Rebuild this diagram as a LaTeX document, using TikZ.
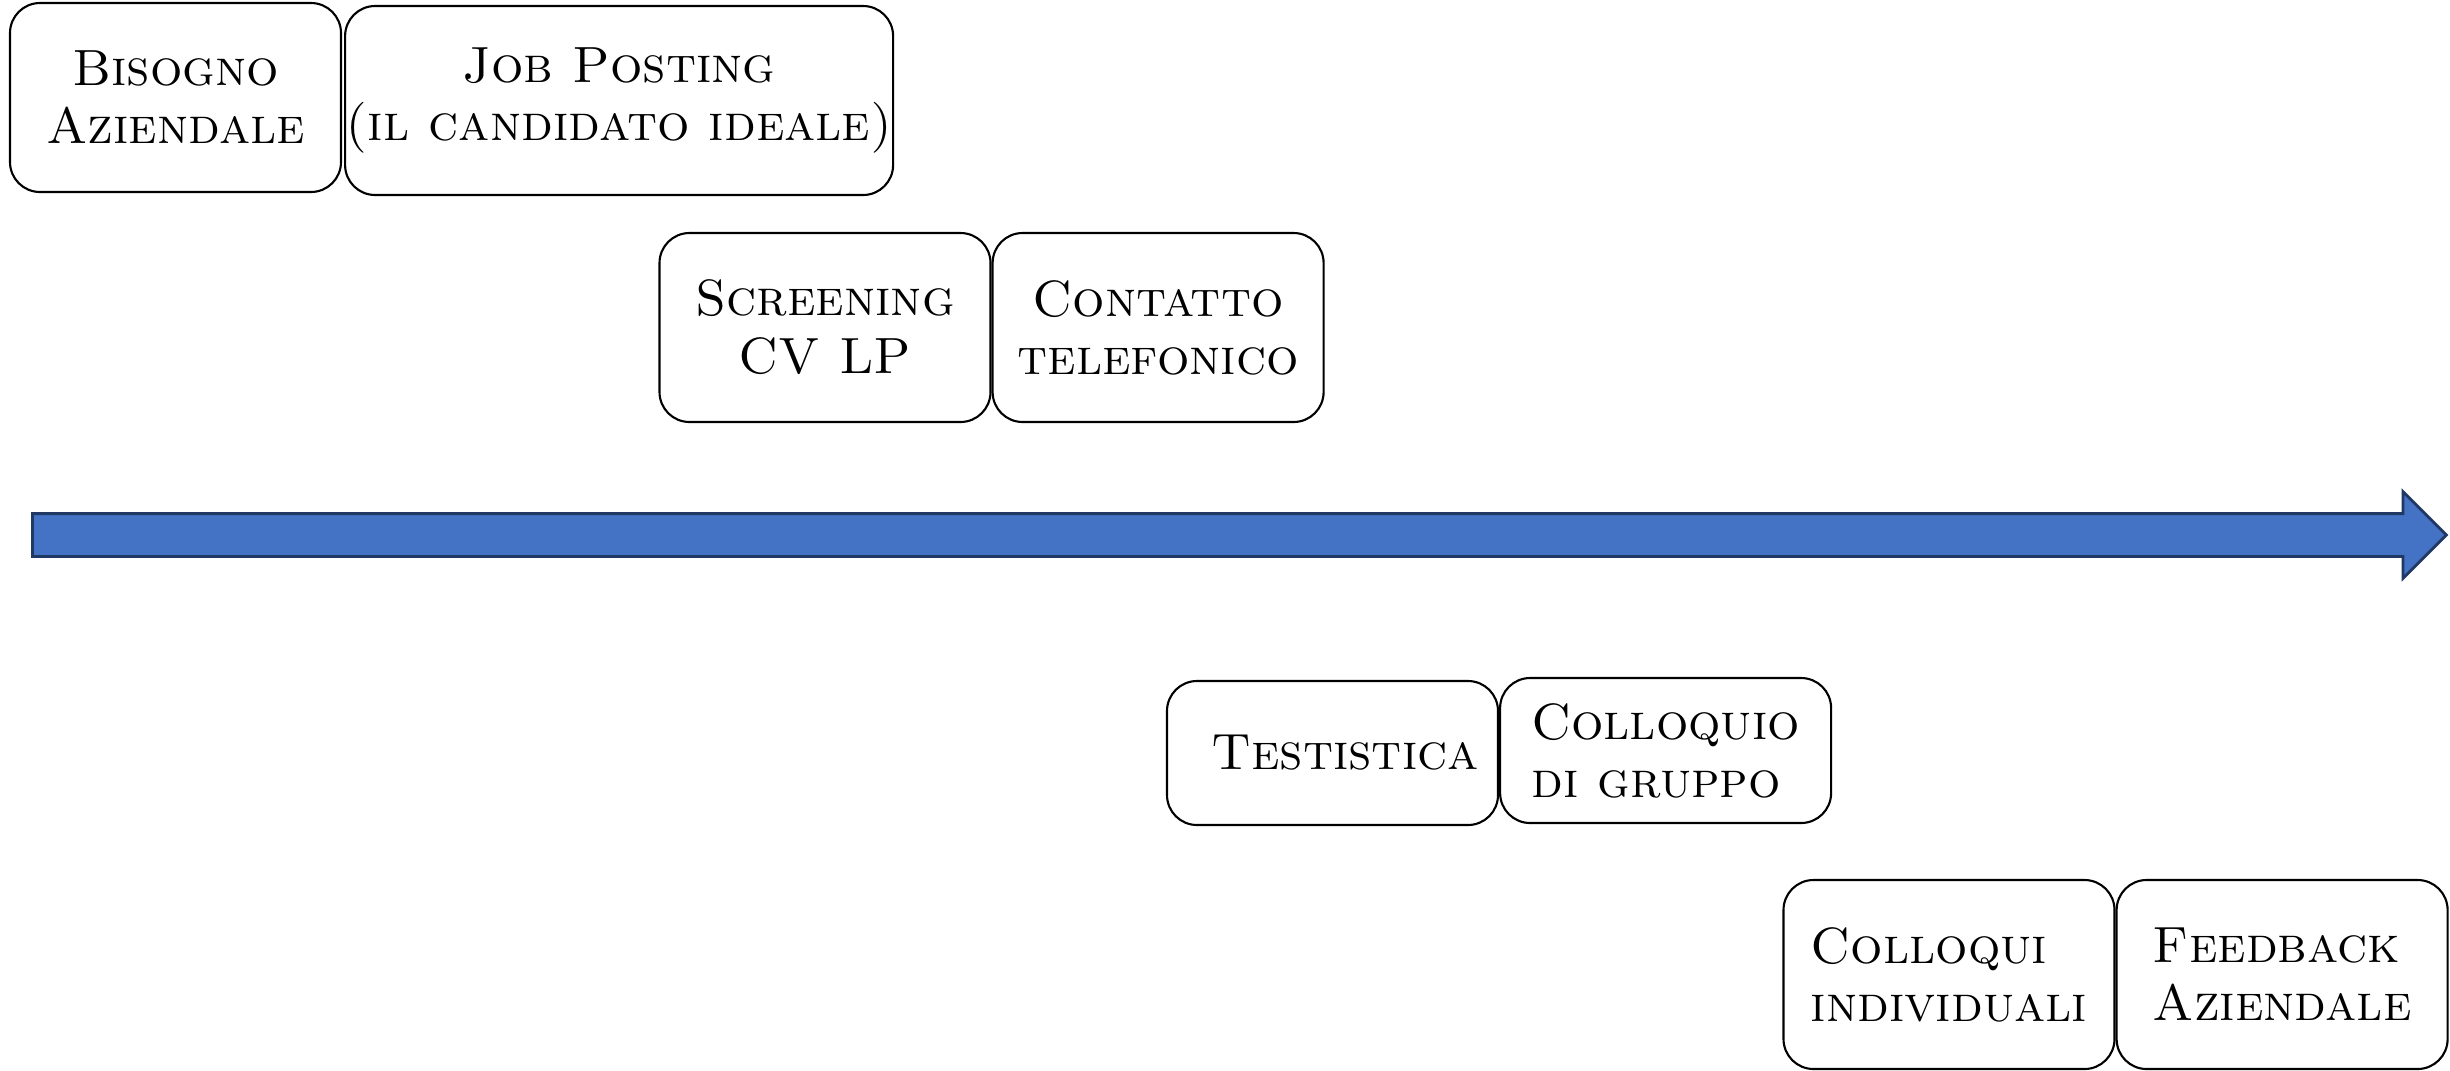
\documentclass[tikz,border=0pt]{standalone}
\usepackage{fontspec}
\usepackage{tikz}
\usetikzlibrary{shapes,arrows,positioning}
\definecolor{arrowblue}{RGB}{68,114,196}
\definecolor{arrowedge}{RGB}{32,56,100}
\tikzstyle{stage} = [rectangle, draw, line width=0.6pt, rounded corners=0.3cm,
    inner sep=0pt, minimum width=3.31cm, minimum height=1.89cm, align=center,
    font=\fontsize{14.5}{16.5}\selectfont\scshape]
\tikzstyle{timeline} = [single arrow, draw=arrowedge, fill=arrowblue, line width=0.8pt,
    inner xsep=0pt, inner ysep=0.2cm, minimum height=24.14cm,
    single arrow head extend=0.22cm]

\begin{document}
\begin{tikzpicture}
		\useasboundingbox (0,0) rectangle (24.5,-10.7);
		% draw the text boxes first
		\node [stage] (bisogno) at (1.755,-0.975) {Bisogno\\Aziendale};
		\node [stage, minimum width=5.48cm, right=0.02cm of bisogno, yshift=-0.03cm] (posting) {Job Posting\\(il candidato ideale)};
		\node [stage] (screening) at (8.25,-3.275) {Screening\\CV LP};
		\node [stage, right=0cm of screening] (contatto) {Contatto\\telefonico};
		\node [stage, minimum height=1.44cm] (testistica) at (13.325,-7.53) {\hspace*{0.25cm}Testistica};
		\node [stage, minimum height=1.45cm, align=left, right=0cm of testistica, yshift=0.025cm] (gruppo) {Colloquio\\di gruppo};
		\node [stage, align=left] (individuali) at (19.49,-9.745) {Colloqui\\individuali};
		\node [stage, align=left, right=0cm of individuali] (feedback) {Feedback\\Aziendale};

		% the time line across the middle
		\node [timeline, anchor=tail] (freccia) at (0.31,-5.35) {};
	\end{tikzpicture}
\end{document}
